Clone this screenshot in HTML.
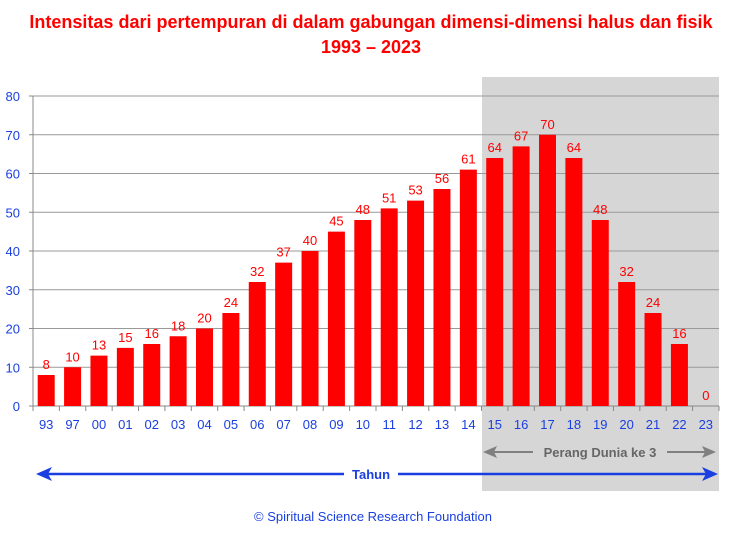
<!DOCTYPE html>
<html><head><meta charset="utf-8"><style>
body{margin:0;background:#fff;}
svg{display:block;font-family:"Liberation Sans",Arial,sans-serif;}
</style></head><body>
<svg id="chart" width="742" height="543" xmlns="http://www.w3.org/2000/svg">
<text x="371" y="28" text-anchor="middle" font-size="18" font-weight="bold" fill="#ff0000">Intensitas dari pertempuran di dalam gabungan dimensi-dimensi halus dan fisik</text>
<text x="371" y="53" text-anchor="middle" font-size="18" font-weight="bold" fill="#ff0000">1993 – 2023</text>
<rect x="482" y="77" width="237" height="414" fill="#d6d6d6"/>
<g id="grid"></g><g id="bars"></g><g id="xlabels"></g>
<line x1="44" y1="474" x2="710" y2="474" stroke="#1a3fe0" stroke-width="2.5"/>
<polygon points="36,474 52,467 48,474 52,481" fill="#1a3fe0"/>
<polygon points="718,474 702,467 706,474 702,481" fill="#1a3fe0"/>
<rect x="344" y="465" width="54" height="18" fill="#fff"/>
<text x="371" y="479" text-anchor="middle" font-size="13" font-weight="bold" fill="#1a3fe0">Tahun</text>
<line x1="490" y1="452" x2="708" y2="452" stroke="#808080" stroke-width="2"/>
<polygon points="483,452 497,446 494,452 497,458" fill="#808080"/>
<polygon points="716,452 702,446 705,452 702,458" fill="#808080"/>
<rect x="533" y="443" width="134" height="18" fill="#d6d6d6"/>
<text x="600" y="457" text-anchor="middle" font-size="13" font-weight="bold" fill="#666">Perang Dunia ke 3</text>
<text x="373" y="521" text-anchor="middle" font-size="13" fill="#1a3fe0">© Spiritual Science Research Foundation</text>
</svg>
<script>
const categories=["93","97","00","01","02","03","04","05","06","07","08","09","10","11","12","13","14","15","16","17","18","19","20","21","22","23"];
const values=[8,10,13,15,16,18,20,24,32,37,40,45,48,51,53,56,61,64,67,70,64,48,32,24,16,0];
const yTicks=[0,10,20,30,40,50,60,70,80];
const NS="http://www.w3.org/2000/svg";
const x0=33,x1=719,yBase=406,yTop=96,yMax=80;
const slot=(x1-x0)/categories.length;
function xScale(i){return x0+slot*i;}
function yScale(v){return yBase-(v/yMax)*(yBase-yTop);}
function mk(tag,attrs,parent){const e=document.createElementNS(NS,tag);for(const k in attrs)e.setAttribute(k,attrs[k]);parent.appendChild(e);return e;}
const grid=document.getElementById('grid'),bars=document.getElementById('bars'),xl=document.getElementById('xlabels');
yTicks.forEach(t=>{
 const y=yScale(t);
 if(t>0){const g=mk('line',{x1:x0,x2:x1,y1:y,y2:y,stroke:'#999','stroke-width':1},grid);
 
 }
 const tk=mk('line',{x1:x0-4,x2:x0,y1:y,y2:y,stroke:'#888'},grid);
 
 
 const tx=mk('text',{x:20,y:y+5,'text-anchor':'end','font-size':13,fill:'#1a3fe0'},grid);
 tx.textContent=t;
 
 
});
const ya=mk('line',{x1:x0,x2:x0,y1:yTop,y2:yBase,stroke:'#888'},grid);


const xa=mk('line',{x1:x0,x2:x1,y1:yBase,y2:yBase,stroke:'#888'},grid);


categories.forEach((c,i)=>{
 const tk=mk('line',{x1:xScale(i),x2:xScale(i),y1:yBase,y2:yBase+5,stroke:'#888'},grid);
 
 
 const cx=xScale(i)+slot/2,v=values[i],y=yScale(v);
 const b=mk('rect',{x:cx-8.5,y:y,width:17,height:yBase-y,fill:'#ff0000'},bars);
 
 
 const lb=mk('text',{x:cx,y:y-6,'text-anchor':'middle','font-size':13,fill:'#ff0000'},bars);
 lb.textContent=v;
 
 
 const t=mk('text',{x:cx,y:429,'text-anchor':'middle','font-size':13,fill:'#1a3fe0'},xl);
 t.textContent=c;
 
 
});
const lt=mk('line',{x1:x1,x2:x1,y1:yBase,y2:yBase+5,stroke:'#888'},grid);


</script>
</body></html>
